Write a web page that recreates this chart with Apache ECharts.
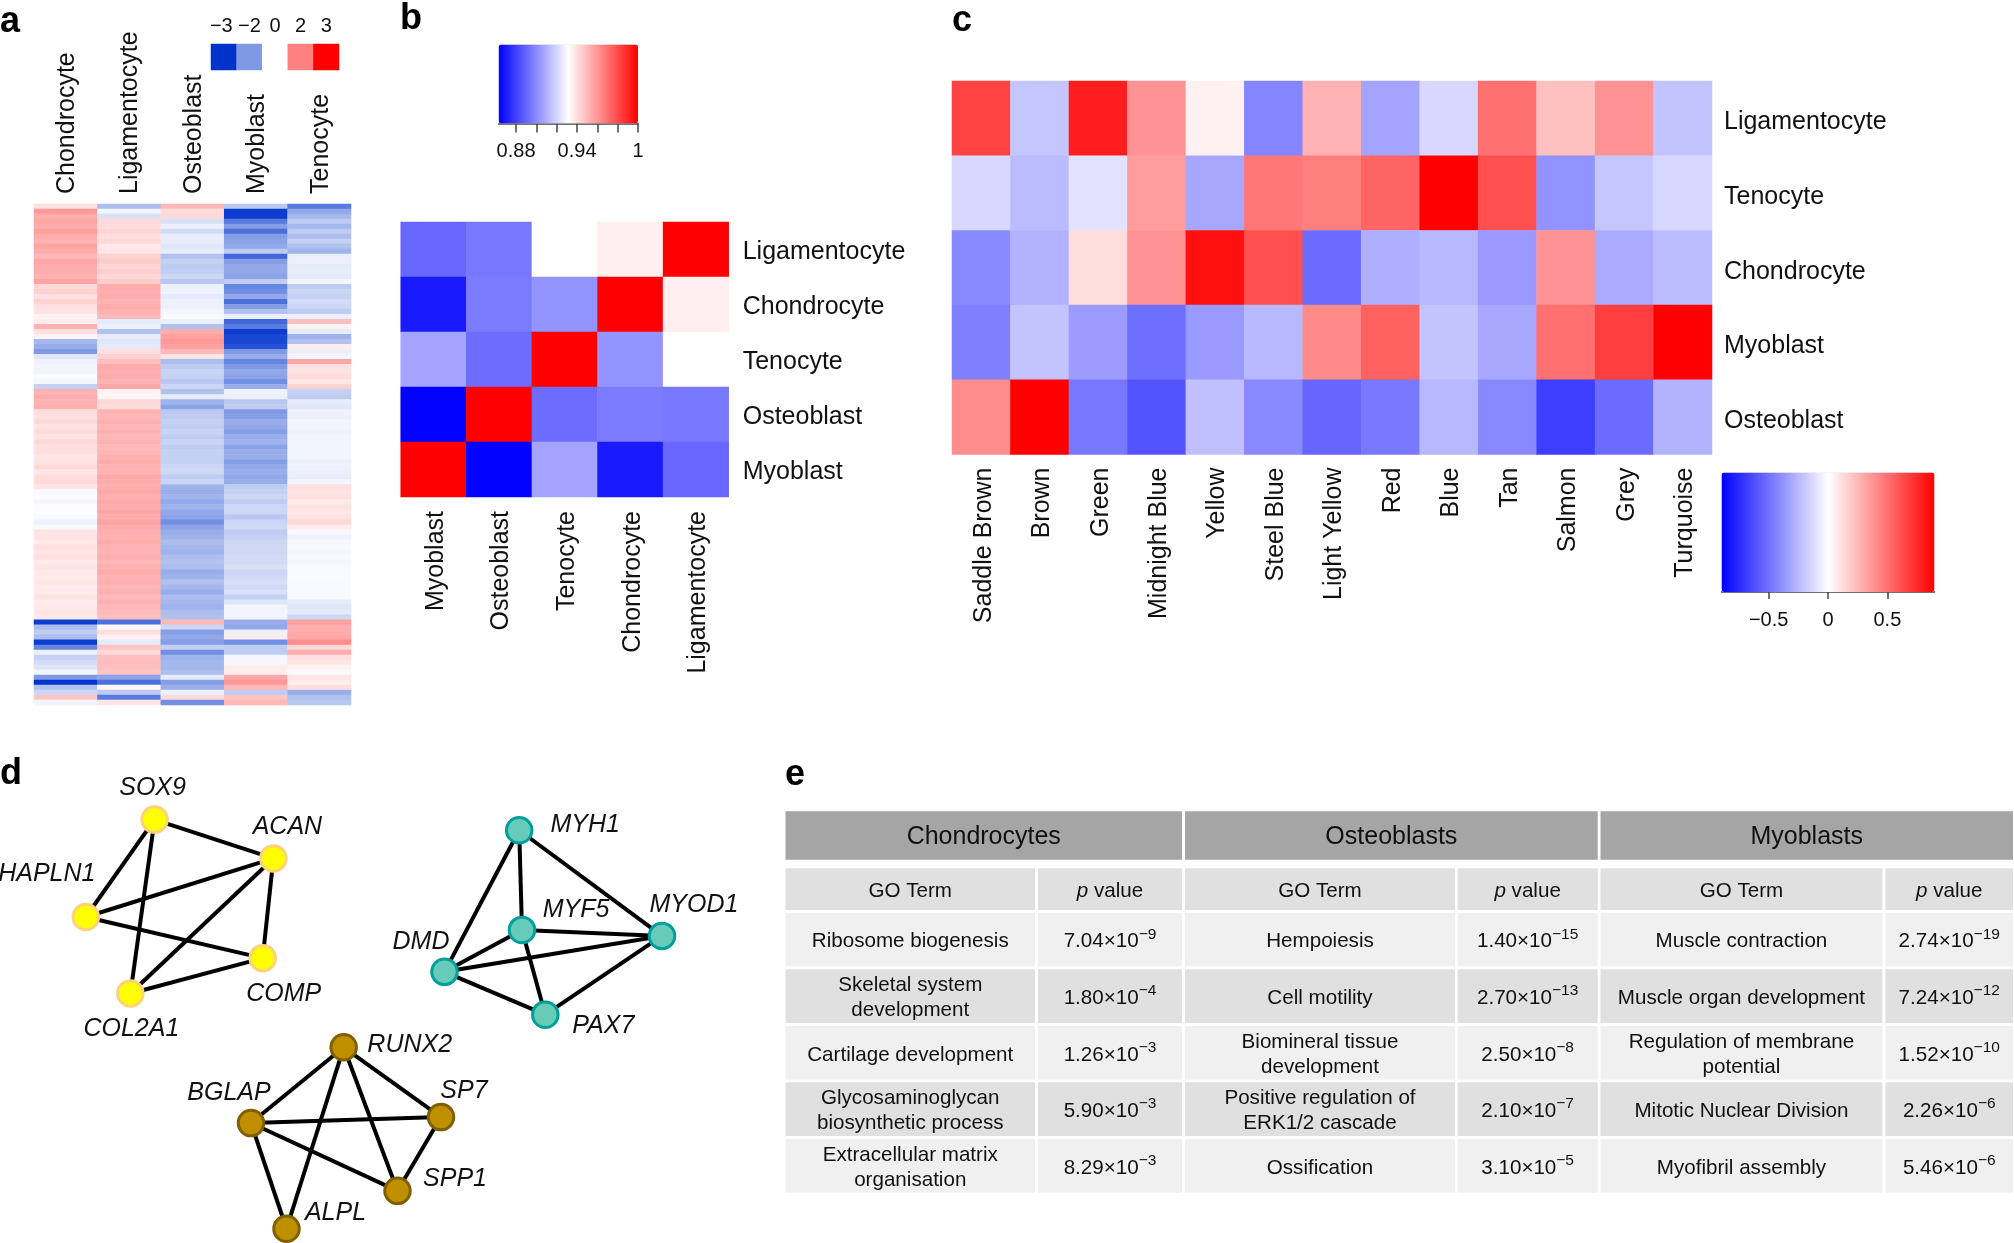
<!DOCTYPE html>
<html><head><meta charset="utf-8">
<style>html,body{margin:0;padding:0;background:#fff}#c{width:2014px;height:1243px}</style>
<script src="https://cdn.jsdelivr.net/npm/echarts@6/dist/echarts.min.js"></script>
</head><body><div id="c"></div>
<script>
// ---------- panel a ----------
const aCols = ['Chondrocyte','Ligamentocyte','Osteoblast','Myoblast','Tenocyte'];
const aChondrocyte = [
 .5,1.6,1.3,1.4,1.3,1.5,1.3,1.2,1.45,1.3,
 1.1,1.4,1.3,1.3,1.2,1.45,.6,.7,.5,.7,
 .5,.45,.2,.3,1.2,.5,.2,-1.4,-1.6,-2.0,
 -.5,-.25,-.2,-.2,-.1,-.15,-.9,1.2,1.3,1.2,
 1.25,.55,.5,.6,.45,.55,.45,.6,.5,.5,
 .4,.45,.6,.4,.55,.6,.4,-.1,-.05,-.15,
 -.05,-.05,-.1,-.25,-.1,.4,.45,.35,.5,.4,
 .5,.35,.4,.35,.35,.4,.3,.35,.45,.3,
 .35,.4,.35,-2.9,-1.3,-1,-1.3,-2.9,-2.2,-.3,
 -.9,-.7,-.5,-.2,-2,-3,-1.2,-.8,.9,-.2];
const aLigamentocyte = [
 -1.3,-.2,-.6,.6,.55,.65,.5,.6,.35,.4,
 .7,.8,.65,.75,.6,.8,1.3,1.25,1.3,1.2,
 1.3,1.2,1.1,-.4,-.3,-1.2,-.4,-.5,-.4,.5,
 .7,1.0,1.3,1.25,1.3,1.2,1.4,.2,.15,.6,
 .55,1.2,1.15,1.25,1.15,1.2,1.15,1.2,1.1,1.15,
 1.2,1.3,1.2,1.2,1.35,1.3,1.25,1.4,1.25,1.35,
 1.3,1.4,1.3,1.45,1.3,1.25,1.2,1.3,1.2,1.2,
 1.25,1.15,1.2,1.3,1.2,1.25,1.15,1.2,1.1,1.2,
 1.1,1.05,1.0,-2.4,.1,.5,.2,-.4,.9,.6,
 1,1.05,1,.9,-1.8,-2.4,.1,-1,-2.3,.4];
const aOsteoblast = [
 1.1,.55,.6,-.6,-.3,-.7,-.35,-.35,-.5,-.35,
 -1.2,-.9,-1,-.95,-.8,-1.1,-.3,-.25,-.4,-.3,
 -.25,-.2,-.1,-.3,-1.2,1.3,1.5,1.6,1.5,1.1,
 .4,-1.3,-1,-.85,-.9,-1.1,-.8,-1.2,-.4,-1.5,
 -1.8,-1.1,-1,-.9,-1,-.85,-1,-.85,-1,-.9,
 -.9,-.9,-.8,-.75,-1,-.85,-1.5,-1.6,-1.5,-1.7,
 -1.5,-1.7,-1.8,-2.1,-1.8,-1.6,-1.5,-1.3,-1.4,-1.5,
 -1.3,-1.2,-1.3,-1.6,-1.5,-1.2,-1.4,-1.6,-1.3,-1.4,
 -1.5,-1.3,-1.2,1.1,-.8,-1.9,-1.7,-1.9,-.9,-2.1,
 -1.5,-1.4,-1.4,-1.3,-.4,-1.9,-1.6,-.3,.6,-2.1];
const aMyoblast = [
 -1.1,-2.9,-2.9,-2.3,-1.9,-2.4,-1.9,-1.8,-1.7,-1,
 -2.5,-1.9,-1.7,-1.7,-1.8,-1,-2.2,-2.1,-1.7,-2.4,
 -1.9,-1.2,-.3,-2.5,-2.3,-2.9,-2.8,-2.8,-2.7,-2,
 -1.6,-2.2,-2,-1.7,-1.8,-2.1,-1.6,-.25,-.3,-1.1,
 -1,-2,-1.9,-1.6,-1.7,-1.9,-1.6,-1.5,-1.8,-1.6,
 -1.6,-1.9,-1.7,-1.6,-1.7,-1.6,-1,-.9,-.8,-1,
 -.8,-.8,-1.1,-.8,-.75,-1,-.9,-.8,-.75,-.75,
 -.7,-.7,-.6,-.8,-.7,-.65,-.75,-.6,-.9,-.5,
 -.2,-.2,-.2,-1.6,-1.7,-.3,.3,-2.1,-1,-1,
 -.15,-.15,.3,.3,1.4,1.6,1.1,-1,.9,1.1];
const aTenocyte = [
 -2.3,-1.7,-1.4,-1,-1.4,-1,-1.3,-.9,-1.2,-1.5,
 -.3,-.3,-.4,-.35,-.4,-.2,-1,-.8,-.9,-.7,
 -.8,-1,-.3,1,.2,-.4,-1.5,-1.2,.3,-.3,
 -.2,1.4,.5,.45,.55,.4,.7,-.9,-1,-.4,
 -.45,-.25,-.3,-.2,-.2,-.25,-.2,-.2,-.2,-.2,
 -.2,-.3,-.25,-.3,-.35,-.2,.5,.45,.5,.35,
 .45,.4,.45,.6,.3,-.1,-.25,-.15,-.1,-.15,
 -.1,-.15,-.1,-.1,-.08,-.1,-.1,-.1,-.1,-.4,
 -.5,-.4,-.8,1.5,1.3,1.3,1.4,1.8,.6,1.3,
 .5,.4,.2,-.1,.4,.3,.5,-1.6,-1.2,-1.1];
const aColumns = [aChondrocyte,aLigamentocyte,aOsteoblast,aMyoblast,aTenocyte];
const aLegendLabels = ['−3','−2','0','2','3'];
const aLegendValues = [-3,-2,0,2,3];

// ---------- panel b ----------
const bRows = ['Ligamentocyte','Chondrocyte','Tenocyte','Osteoblast','Myoblast'];
const bCols = ['Myoblast','Osteoblast','Tenocyte','Chondrocyte','Ligamentocyte'];
const bValues = [
 [.8904,.895,.9315,.9356,1],
 [.8699,.8959,.9027,1,.9356],
 [.9068,.8918,1,.9027,.9315],
 [.863,1,.8918,.8959,.895],
 [1,.863,.9068,.8699,.8904]];
const bTickLabels = [.88,.94,1];
const bTicks = [.88,.9,.92,.94,.96,.98,1];

// ---------- panel c ----------
const cRows = ['Ligamentocyte','Tenocyte','Chondrocyte','Myoblast','Osteoblast'];
const cCols = ['Saddle Brown','Brown','Green','Midnight Blue','Yellow','Steel Blue','Light Yellow','Red','Blue','Tan','Salmon','Grey','Turquoise'];
const cValues = [
 [.66,-.2,.79,.38,.05,-.43,.27,-.32,-.14,.5,.22,.38,-.21],
 [-.14,-.24,-.1,.35,-.31,.48,.45,.54,.9,.62,-.38,-.2,-.14],
 [-.42,-.27,.12,.38,.84,.62,-.52,-.28,-.25,-.36,.38,-.3,-.24],
 [-.45,-.21,-.35,-.51,-.36,-.25,.41,.56,-.21,-.31,.5,.675,.9],
 [.4,.9,-.48,-.6,-.22,-.42,-.54,-.47,-.25,-.42,-.68,-.52,-.27]];
const cTicks = [-.5,0,.5];

// ---------- panel d ----------
const geneNames = ['SOX9','ACAN','HAPLN1','COMP','COL2A1','MYH1','MYF5','MYOD1','DMD','PAX7','RUNX2','BGLAP','SP7','SPP1','ALPL'];
const geneX = [154.6,273.4,85.8,262.7,130.4,519.2,522,662,444.5,545.3,343.7,251,441,397.5,286.5];
const geneY = [78.3,117.3,176,217.3,252.7,89,189,195,231,274,306.7,382.7,376.7,450.7,488.7];
const geneModule = [0,0,0,0,0,1,1,1,1,1,2,2,2,2,2];
const geneEdges = [
 ['SOX9','ACAN'],['SOX9','HAPLN1'],['SOX9','COL2A1'],['ACAN','HAPLN1'],['ACAN','COL2A1'],['ACAN','COMP'],['HAPLN1','COMP'],['COL2A1','COMP'],
 ['MYH1','DMD'],['MYH1','MYF5'],['MYH1','MYOD1'],['MYF5','DMD'],['MYF5','MYOD1'],['MYF5','PAX7'],['DMD','MYOD1'],['DMD','PAX7'],['MYOD1','PAX7'],
 ['RUNX2','BGLAP'],['RUNX2','SP7'],['RUNX2','SPP1'],['RUNX2','ALPL'],['BGLAP','SP7'],['BGLAP','SPP1'],['BGLAP','ALPL'],['SP7','SPP1']];
const geneLabelOffsetX = [-2,14,-39,21,1,66,54,32,-23.5,58,66,-22,23,57.5,49];
const geneLabelOffsetY = [-33,-33,-44,35,34,-6,-21,-32,-31,10,-3,-31,-27,-13,-17];

// ---------- panel e ----------
const tableGroups = ['Chondrocytes','Osteoblasts','Myoblasts'];
const goTerms = [
 ['Ribosome biogenesis','Skeletal system\ndevelopment','Cartilage development','Glycosaminoglycan\nbiosynthetic process','Extracellular matrix\norganisation'],
 ['Hempoiesis','Cell motility','Biomineral tissue\ndevelopment','Positive regulation of\nERK1/2 cascade','Ossification'],
 ['Muscle contraction','Muscle organ development','Regulation of membrane\npotential','Mitotic Nuclear Division','Myofibril assembly']];
const pMantissa = [
 ['7.04','1.80','1.26','5.90','8.29'],
 ['1.40','2.70','2.50','2.10','3.10'],
 ['2.74','7.24','1.52','2.26','5.46']];
const pExponent = [
 ['−9','−4','−3','−3','−3'],
 ['−15','−13','−8','−7','−5'],
 ['−19','−12','−10','−6','−6']];

// ---------- layout ----------
const FONT = '"Liberation Sans", Arial, sans-serif';
const colEdges = [[785.5,1035],[1038,1182],[1185,1455],[1457.6,1597.7],[1600.5,1882.4],[1885.5,2013]];
const rowEdges = [[913,966.3],[969.3,1023],[1026,1079.7],[1082.3,1136],[1139,1192.7]];
const TXT_DY = 2;

const g = [];
function rect(x0,y0,x1,y1,fill){ g.push({type:'rect',silent:true,shape:{x:x0,y:y0,width:x1-x0,height:y1-y0},style:{fill}}); }
function txt(text,x,y,size,extra){ g.push({type:'text',silent:true,z:5,style:Object.assign({text,x,y:y+TXT_DY,align:'center',verticalAlign:'middle',fill:'#111',fontFamily:FONT,fontSize:size,lineHeight:25},extra||{})}); }

[['a',0,22],['b',400,19],['c',952,21],['d',0,774],['e',785,775]].forEach(([t,x,y])=>{
  g.push({type:'text',silent:true,style:{text:t,x,y,align:'left',verticalAlign:'middle',fill:'#000',fontFamily:FONT,fontSize:36,fontWeight:'bold'}});
});

tableGroups.forEach((name,i)=>{
  const L=colEdges[i*2], R=colEdges[i*2+1];
  rect(L[0],811.3,R[1],859.7,'#a5a5a5');
  txt(name,(L[0]+R[1])/2,835.5,25);
  rect(L[0],868.3,L[1],910,'#e0e0e0');
  rect(R[0],868.3,R[1],910,'#e0e0e0');
  txt('GO Term',(L[0]+L[1])/2,889.5,20.6);
  g.push({type:'text',silent:true,z:5,style:{text:'{i|p}{n| value}',x:(R[0]+R[1])/2,y:889.5+TXT_DY,align:'center',verticalAlign:'middle',fill:'#111',
    rich:{i:{fontFamily:FONT,fontSize:20.6,fontStyle:'italic',fill:'#111'},n:{fontFamily:FONT,fontSize:20.6,fill:'#111'}}}});
  rowEdges.forEach((r,j)=>{
    const fill = j%2 ? '#e0e0e0' : '#f0f0f0';
    rect(L[0],r[0],L[1],r[1],fill);
    rect(R[0],r[0],R[1],r[1],fill);
    txt(goTerms[i][j],(L[0]+L[1])/2,(r[0]+r[1])/2,20.6);
    g.push({type:'text',silent:true,z:5,style:{
      text:'{n|'+pMantissa[i][j]+'×10}{s|'+pExponent[i][j]+'}',
      x:(R[0]+R[1])/2,y:(r[0]+r[1])/2+TXT_DY,align:'center',verticalAlign:'middle',fill:'#111',
      rich:{n:{fontFamily:FONT,fontSize:20.6,lineHeight:30,fill:'#111',verticalAlign:'middle'},
            s:{fontFamily:FONT,fontSize:15.5,lineHeight:16,fill:'#111',verticalAlign:'top'}}}});
  });
});

function heatAxis(data,pos,opts){
  return Object.assign({type:'category',data,position:pos,axisLine:{show:false},axisTick:{show:false},splitLine:{show:false},splitArea:{show:false}},opts||{});
}
const labelStyle = (m,rot,fs,pad)=>{
  const s={show:true,interval:0,rotate:rot,margin:m,fontFamily:FONT,fontSize:fs||25,color:'#111',hideOverlap:false};
  if(pad){ s.formatter=v=>'{t|'+v+'}'; s.rich={t:{fontFamily:FONT,fontSize:fs||25,color:'#111',padding:pad}}; }
  return s;
};

const aRows = aChondrocyte.map((_,i)=>String(i));
const aData = [];
aColumns.forEach((col,x)=>col.forEach((v,y)=>aData.push([x,y,v])));
const bData=[]; bValues.forEach((r,y)=>r.forEach((v,x)=>bData.push([x,y,v])));
const cData=[]; cValues.forEach((r,y)=>r.forEach((v,x)=>cData.push([x,y,v])));

const option = {
  animation:false, backgroundColor:'#fff',
  graphic:{elements:g},
  grid:[
    {left:34,top:204,width:317,height:501},
    {left:211,top:44,width:128,height:26},
    {left:400.7,top:222,width:328,height:275},
    {left:952,top:81,width:760,height:373.5},
    {left:498.6,top:44.6,width:139.4,height:79},
    {left:1721.5,top:472.6,width:213,height:119.4},
    {left:0,top:741.5,width:760,height:503}
  ],
  xAxis:[
    heatAxis(aCols,'top',{gridIndex:0,axisLabel:labelStyle(10,-90,25,[3,0,0,0])}),
    heatAxis(aLegendLabels,'top',{gridIndex:1,axisLabel:Object.assign(labelStyle(8,0,20),{
      formatter:v=>v==='−3'?'{w|−3}':v, rich:{w:{fontFamily:FONT,fontSize:20,color:'#111',padding:[0,5,0,0]}}})}),
    heatAxis(bCols,'bottom',{gridIndex:2,axisLabel:labelStyle(14,90,25,[5,0,0,0])}),
    heatAxis(cCols,'bottom',{gridIndex:3,axisLabel:labelStyle(13,90,25,[5,0,0,0])}),
    {type:'value',gridIndex:4,min:0.8628,max:1,position:'bottom',splitLine:{show:false},
      axisLine:{show:true,lineStyle:{color:'#444',width:1.5}},
      axisTick:{show:true,length:9,lineStyle:{color:'#444',width:1.5},customValues:bTicks},
      axisLabel:{show:true,customValues:bTickLabels,margin:18,fontFamily:FONT,fontSize:20,color:'#111',formatter:v=>String(v)}},
    {type:'value',gridIndex:5,min:-0.897,max:0.897,position:'bottom',splitLine:{show:false},
      axisLine:{show:true,lineStyle:{color:'#444',width:1.5}},
      axisTick:{show:true,length:7,lineStyle:{color:'#444',width:1.5},customValues:cTicks},
      axisLabel:{show:true,customValues:cTicks,margin:18,fontFamily:FONT,fontSize:20,color:'#111',formatter:v=>String(v).replace('-','−')}},
    {type:'value',gridIndex:6,min:0,max:760,show:false}
  ],
  yAxis:[
    heatAxis(aRows,'left',{gridIndex:0,inverse:true,axisLabel:{show:false}}),
    heatAxis(['legend'],'left',{gridIndex:1,axisLabel:{show:false}}),
    heatAxis(bRows,'right',{gridIndex:2,inverse:true,axisLabel:labelStyle(14,0,25,[6,0,0,0])}),
    heatAxis(cRows,'right',{gridIndex:3,inverse:true,axisLabel:labelStyle(12,0,25,[8,0,0,0])}),
    {type:'value',gridIndex:4,min:0,max:1,show:false},
    {type:'value',gridIndex:5,min:0,max:1,show:false},
    {type:'value',gridIndex:6,min:0,max:503,inverse:true,show:false}
  ],
  visualMap:[
    {type:'continuous',show:false,min:-3,max:3,seriesIndex:[0,1],dimension:2,
      inRange:{color:['#0033cc','#7f99e5','#bfccf2','#ffffff','#ffbfbf','#ff8080','#ff0000']}},
    {type:'continuous',show:true,min:.8628,max:1,seriesIndex:2,dimension:2,orient:'horizontal',left:498.6,top:44.6,itemWidth:79,itemHeight:139.4,padding:0,text:null,calculable:false,showLabel:false,hoverLink:false,
      inRange:{color:['#0000ff','#ffffff','#ff0000']},textStyle:{color:'transparent'}},
    {type:'continuous',show:true,min:-.897,max:.897,seriesIndex:3,dimension:2,orient:'horizontal',left:1721.5,top:472.6,itemWidth:119.4,itemHeight:213,padding:0,text:null,calculable:false,showLabel:false,hoverLink:false,
      inRange:{color:['#0000ff','#ffffff','#ff0000']},textStyle:{color:'transparent'}}
  ],
  series:[
    {type:'heatmap',xAxisIndex:0,yAxisIndex:0,data:aData,progressive:0,emphasis:{disabled:true}},
    {type:'heatmap',xAxisIndex:1,yAxisIndex:1,data:aLegendValues.map((v,i)=>[i,0,v]),emphasis:{disabled:true}},
    {type:'heatmap',xAxisIndex:2,yAxisIndex:2,data:bData,emphasis:{disabled:true}},
    {type:'heatmap',xAxisIndex:3,yAxisIndex:3,data:cData,emphasis:{disabled:true}},
    {type:'graph',coordinateSystem:'cartesian2d',xAxisIndex:6,yAxisIndex:6,layout:'none',roam:false,silent:true,
      symbol:'circle',symbolSize:25.5,edgeSymbol:['none','none'],
      lineStyle:{color:'#000',width:4,opacity:1,curveness:0},
      data:geneNames.map((name,i)=>{
        const styles=[{color:'#ffff00',borderColor:'#ffd27a'},{color:'#66ccb8',borderColor:'#009e9e'},{color:'#bf8f00',borderColor:'#7f6000'}];
        return {name,value:[geneX[i],geneY[i]],
          itemStyle:Object.assign({borderWidth:3,opacity:1},styles[geneModule[i]]),
          label:{show:true,position:'inside',offset:[geneLabelOffsetX[i],geneLabelOffsetY[i]+1.2],formatter:name,color:'#111',fontFamily:FONT,fontSize:25,fontStyle:'italic',textBorderWidth:0}};
      }),
      links:geneEdges.map(([source,target])=>({source,target}))
    }
  ]
};
const chart = echarts.init(document.getElementById('c'),null,{renderer:'canvas',width:2014,height:1243});
chart.setOption(option);
</script></body></html>
